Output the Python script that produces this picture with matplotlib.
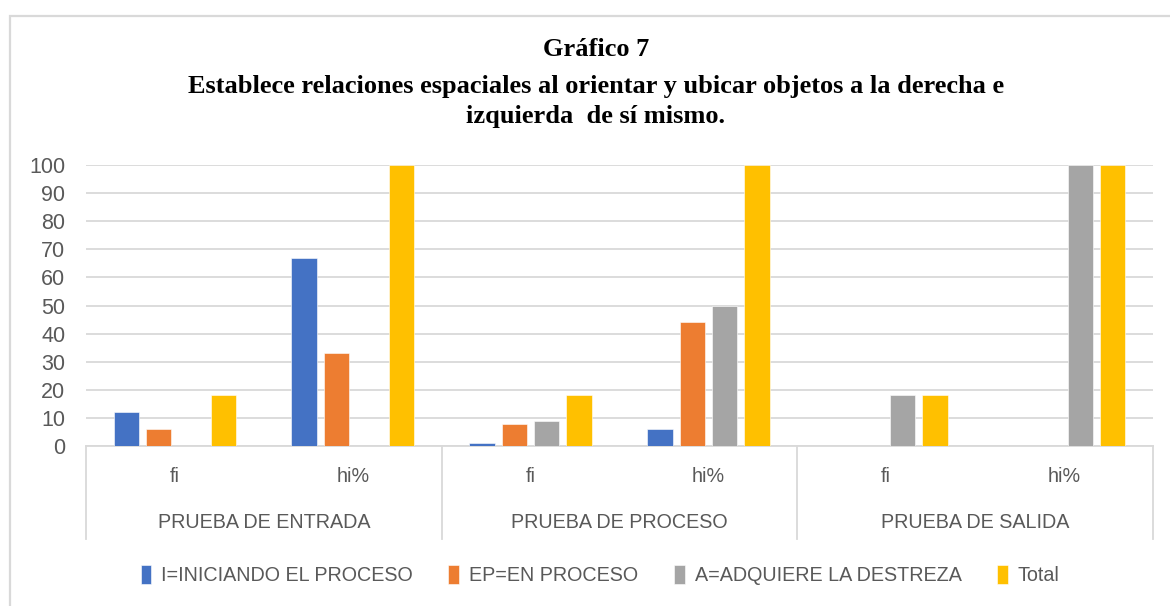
import numpy as np
import matplotlib.pyplot as plt
from matplotlib.patches import Rectangle
from matplotlib.transforms import blended_transform_factory

# data
groups = ['PRUEBA DE ENTRADA', 'PRUEBA DE PROCESO', 'PRUEBA DE SALIDA']
subcats = ['fi', 'hi%']
series = ['I=INICIANDO EL PROCESO', 'EP=EN PROCESO', 'A=ADQUIERE LA DESTREZA', 'Total']
iniciando = [12, 67, 1, 6, 0, 0]
en_proceso = [6, 33, 8, 44, 0, 0]
adquiere = [0, 0, 9, 50, 18, 100]
total = [18, 100, 18, 100, 18, 100]
colors = ['#4472C4', '#ED7D31', '#A5A5A5', '#FFC000']

txt = '#595959'
grid = '#D9D9D9'
lab_font = ['Liberation Sans', 'DejaVu Sans']

fig = plt.figure(figsize=(11.7, 6.06), dpi=100)
ax = fig.add_axes([86 / 1170, 1 - 446 / 606, (1153 - 86) / 1170, (446 - 165) / 606])

# outer chart border
fig.patches.append(Rectangle((10 / 1170, -0.05), 1.1, 1 - 16 / 606 + 0.05,
                             transform=fig.transFigure, fill=False,
                             edgecolor=grid, lw=1.6))

x = np.arange(len(total))
pitch = 0.182
width = 0.143
handles = []
for i, vals in enumerate([iniciando, en_proceso, adquiere, total]):
    b = ax.bar(x + (i - 1.5) * pitch, vals, width, color=colors[i],
               edgecolor='white', linewidth=0.4, label=series[i], zorder=3)
    handles.append(b)

ax.set_xlim(-0.5, len(total) - 0.5)
ax.set_ylim(0, 100)
ax.set_yticks(range(0, 101, 10))
ax.yaxis.grid(True, color=grid, lw=1.3, zorder=0)
ax.set_axisbelow(True)
for s in ['top', 'right', 'left']:
    ax.spines[s].set_visible(False)
ax.spines['bottom'].set_color(grid)
ax.spines['bottom'].set_linewidth(1.3)
ax.tick_params(axis='y', length=0, pad=15, labelsize=15.5, labelcolor=txt)
ax.tick_params(axis='x', length=0, labelbottom=False)
for t in ax.get_yticklabels():
    t.set_family(lab_font)

# two-level category axis
tr = blended_transform_factory(ax.transData, ax.transAxes)
for k in range(len(groups) + 1):
    xs = -0.5 + 2 * k
    ax.plot([xs, xs], [0, -0.331], transform=tr, color=grid, lw=1.3, clip_on=False)
for j in range(len(total)):
    ax.text(j, -0.107, subcats[j % 2], transform=tr, ha='center', va='center',
            fontsize=14.2, color=txt, family=lab_font)
for g, name in enumerate(groups):
    ax.text(2 * g + 0.5, -0.274, name, transform=tr, ha='center', va='center',
            fontsize=14.2, color=txt, family=lab_font)

# title
title_font = ['Liberation Serif', 'DejaVu Serif']
fig.text(596 / 1170, 1 - 50 / 606, 'Gráfico 7', ha='center', va='center',
         fontsize=19, weight='bold', family=title_font)
fig.text(596 / 1170, 1 - 86 / 606,
         'Establece relaciones espaciales al orientar y ubicar objetos a la derecha e',
         ha='center', va='center', fontsize=19, weight='bold', family=title_font)
fig.text(596 / 1170, 1 - 117 / 606, 'izquierda  de sí mismo.', ha='center', va='center',
         fontsize=19, weight='bold', family=title_font)

leg = fig.legend(handles=handles, loc='center', bbox_to_anchor=(600 / 1170, 1 - 575 / 606),
                 ncol=4, frameon=False, handlelength=0.55, handleheight=1.1,
                 handletextpad=0.5, columnspacing=1.8,
                 prop={'family': lab_font, 'size': 14.2})
for t in leg.get_texts():
    t.set_color(txt)

fig.savefig('out.png', dpi=100)
